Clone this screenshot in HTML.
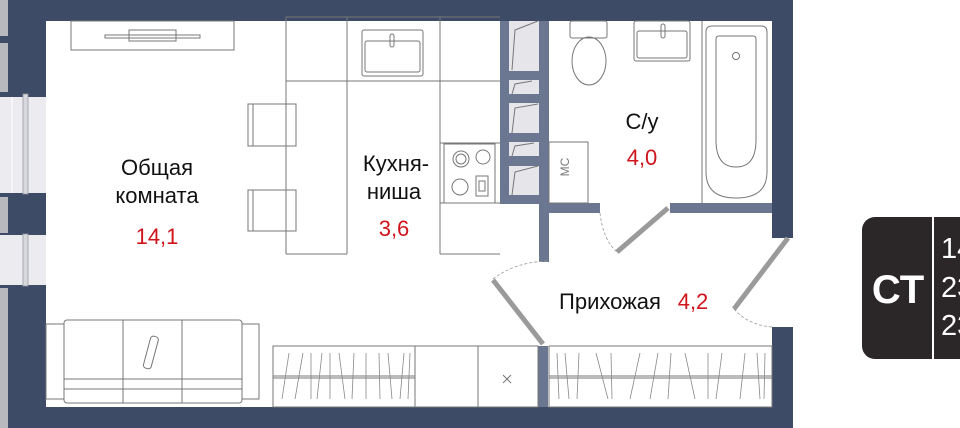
<!DOCTYPE html>
<html><head><meta charset="utf-8"><style>
html,body{margin:0;padding:0;background:#fff;width:960px;height:428px;overflow:hidden}
svg{display:block}
text{font-family:"Liberation Sans","DejaVu Sans",sans-serif}
</style></head><body>
<svg width="960" height="428" viewBox="0 0 960 428" xmlns="http://www.w3.org/2000/svg">
<!-- outer walls -->
<rect x="8" y="0" width="785" height="428" fill="#3d4b66"/>
<rect x="46" y="21" width="726" height="386" fill="#fff"/>
<!-- left edge strips -->
<rect x="0" y="0" width="8" height="428" fill="#3d4b66"/>
<rect x="0" y="0" width="8" height="36" fill="#b8b9be"/>
<rect x="0" y="43" width="8" height="49" fill="#b8b9be"/>
<rect x="0" y="197" width="8" height="36" fill="#b8b9be"/>
<rect x="0" y="288" width="8" height="140" fill="#b8b9be"/>
<!-- windows -->
<rect x="0" y="97" width="46" height="96" fill="#ececf0"/>
<line x1="12" y1="97" x2="12" y2="193" stroke="#fff" stroke-width="1"/>
<rect x="23" y="94" width="5" height="100" fill="#d6d8dd" stroke="#9a9ca3" stroke-width="0.8"/>
<rect x="0" y="235" width="46" height="50" fill="#ececf0"/>
<rect x="23" y="234" width="5" height="52" fill="#d6d8dd" stroke="#9a9ca3" stroke-width="0.8"/>
<!-- right entrance opening -->
<rect x="772" y="238" width="21" height="89" fill="#fff"/>
<!-- interior walls -->
<g fill="#6b7791">
<rect x="500" y="21" width="9" height="182"/>
<rect x="539" y="21" width="10" height="241"/>
<rect x="500" y="195" width="49" height="9"/>
<rect x="549" y="203" width="51" height="10"/>
<rect x="670" y="203" width="102" height="10"/>
<rect x="538" y="346" width="10" height="61"/>
<rect x="509" y="71" width="30" height="9"/>
<rect x="509" y="94" width="30" height="9"/>
<rect x="509" y="133" width="30" height="9"/>
<rect x="509" y="156" width="30" height="10"/>
</g>
<g fill="#e6e6ea">
<rect x="509" y="21" width="30" height="50"/>
<rect x="509" y="80" width="30" height="14"/>
<rect x="509" y="103" width="30" height="30"/>
<rect x="509" y="142" width="30" height="14"/>
<rect x="509" y="166" width="30" height="29"/>
</g>
<g fill="none" stroke="#777" stroke-width="1">
<polyline points="512,70 515,30 538,21"/>
<polyline points="512,94 515,84 532,81"/>
<polyline points="512,133 515,108 538,104"/>
<polyline points="512,156 515,146 534,143"/>
<polyline points="512,195 515,172 538,166"/>
<!-- TV unit -->
<rect x="71" y="21" width="163" height="29"/>
<rect x="105" y="35" width="95" height="3"/>
<rect x="129" y="30" width="47" height="11"/>
<!-- kitchen -->
<line x1="286" y1="17" x2="286" y2="254"/>
<line x1="347" y1="17" x2="347" y2="254"/>
<line x1="440" y1="17" x2="440" y2="254"/>
<line x1="286" y1="17" x2="500" y2="17"/>
<line x1="286" y1="81" x2="500" y2="81"/>
<line x1="286" y1="254" x2="347" y2="254"/>
<line x1="440" y1="254" x2="500" y2="254"/>
<line x1="440" y1="203" x2="500" y2="203"/>
<line x1="440" y1="143" x2="500" y2="143"/>
<rect x="362" y="30" width="61" height="46" rx="2"/>
<rect x="365" y="41" width="55" height="31" rx="2"/>
<rect x="390" y="34" width="4" height="13" rx="2"/>
<rect x="444" y="144" width="51" height="59"/>
<circle cx="461" cy="159" r="8"/><circle cx="461" cy="159" r="5"/>
<circle cx="483" cy="157" r="7"/>
<circle cx="460" cy="187" r="8"/>
<rect x="476" y="176" width="12" height="20"/>
<rect x="479" y="181" width="6" height="10"/>
<!-- chairs -->
<rect x="248" y="104" width="48" height="42"/>
<line x1="253" y1="104" x2="253" y2="146"/>
<rect x="248" y="190" width="48" height="41"/>
<line x1="253" y1="190" x2="253" y2="231"/>
<!-- MC -->
<rect x="549" y="142" width="39" height="61"/>
<!-- toilet -->
<rect x="570" y="21" width="37" height="17" rx="2"/>
<ellipse cx="589" cy="61" rx="17" ry="24"/>
<!-- bath sink -->
<rect x="634" y="21" width="56" height="40" rx="2"/>
<rect x="637" y="31" width="50" height="27" rx="2"/>
<rect x="661" y="24" width="4" height="14" rx="2"/>
<line x1="702" y1="21" x2="702" y2="203"/>
<!-- bath -->
<path d="M712,26 H761 Q767,26 767,32 V172 Q767,198 736,198 Q706,198 706,172 V32 Q706,26 712,26 Z"/>
<path d="M719,36 H753 Q756,36 756,39 V140 Q756,167 736,167 Q716,167 716,140 V39 Q716,36 719,36 Z"/>
<circle cx="736" cy="56" r="3.5"/>
<!-- sofa -->
<rect x="46" y="324" width="18" height="75"/>
<rect x="242" y="324" width="17" height="75"/>
<rect x="64" y="320" width="178" height="83" rx="3"/>
<line x1="123" y1="320" x2="123" y2="403"/>
<line x1="182" y1="320" x2="182" y2="403"/>
<line x1="64" y1="379" x2="242" y2="379"/>
<line x1="64" y1="389" x2="242" y2="389"/>
<rect x="147" y="336" width="8" height="33" rx="3" transform="rotate(15 151 352)"/>
<!-- wardrobes -->
<rect x="273" y="346" width="142" height="61"/>
<line x1="273" y1="376" x2="415" y2="376"/>
<line x1="273" y1="378" x2="415" y2="378"/>
<rect x="415" y="346" width="63" height="61"/>
<rect x="478" y="346" width="60" height="61"/>
<line x1="503" y1="375" x2="511" y2="383"/><line x1="511" y1="375" x2="503" y2="383"/>
<rect x="549" y="346" width="223" height="61"/>
<line x1="549" y1="376" x2="772" y2="376"/>
<line x1="549" y1="378" x2="772" y2="378"/>
</g>
<g stroke="#888" stroke-width="0.8">
<line x1="289" y1="353" x2="282" y2="399"/><line x1="303" y1="353" x2="295" y2="399"/>
<line x1="311" y1="353" x2="311" y2="399"/><line x1="322" y1="353" x2="317" y2="399"/>
<line x1="330" y1="353" x2="330" y2="399"/><line x1="339" y1="353" x2="345" y2="399"/>
<line x1="354" y1="353" x2="352" y2="399"/><line x1="366" y1="353" x2="366" y2="399"/>
<line x1="379" y1="353" x2="380" y2="399"/><line x1="388" y1="353" x2="392" y2="399"/>
<line x1="404" y1="353" x2="400" y2="399"/><line x1="410" y1="353" x2="408" y2="399"/>
<line x1="557" y1="353" x2="559" y2="399"/><line x1="565" y1="353" x2="569" y2="399"/>
<line x1="579" y1="353" x2="577" y2="399"/><line x1="596" y1="353" x2="608" y2="399"/>
<line x1="611" y1="353" x2="612" y2="399"/><line x1="640" y1="353" x2="630" y2="399"/>
<line x1="658" y1="353" x2="650" y2="399"/><line x1="671" y1="353" x2="668" y2="399"/>
<line x1="685" y1="353" x2="695" y2="399"/><line x1="708" y1="353" x2="708" y2="399"/>
<line x1="722" y1="353" x2="716" y2="399"/><line x1="745" y1="353" x2="740" y2="399"/>
<line x1="757" y1="353" x2="760" y2="399"/><line x1="765" y1="353" x2="764" y2="399"/>
</g>
<!-- doors -->
<g stroke="#9a9a9a" stroke-width="5" stroke-linecap="butt">
<line x1="617" y1="252" x2="668" y2="208"/>
<line x1="493" y1="280" x2="543" y2="344"/>
<line x1="734" y1="309" x2="788" y2="238"/>
</g>
<g fill="none" stroke="#999" stroke-width="0.8" stroke-dasharray="3,2">
<path d="M600,213 Q603,240 617,252"/>
<path d="M493,279 Q515,262 548,261"/>
<path d="M734,309 Q748,325 772,327"/>
</g>
<!-- labels -->
<g font-size="22" fill="#111" text-anchor="middle">
<text x="157" y="175">Общая</text>
<text x="157" y="203">комната</text>
<text x="396" y="171">Кухня-</text>
<text x="394" y="199">ниша</text>
<text x="642" y="129">С/у</text>
<text x="610" y="309">Прихожая</text>
</g>
<g font-size="22" fill="#d0141c" text-anchor="middle">
<text x="157" y="244">14,1</text>
<text x="394" y="236">3,6</text>
<text x="642" y="165">4,0</text>
<text x="693" y="309">4,2</text>
</g>
<text x="575" y="173" font-size="12" fill="#777" text-anchor="middle" transform="rotate(-90 569 173)">МС</text>
<!-- badge -->
<rect x="862" y="217" width="120" height="142" rx="13" fill="#2b2628"/>
<rect x="932" y="217" width="2" height="142" fill="#fff"/>
<text x="898" y="303" font-size="40" font-weight="bold" fill="#fff" text-anchor="middle">СТ</text>
<g font-size="29" fill="#fff">
<text x="941" y="258">14</text>
<text x="941" y="297">23</text>
<text x="941" y="335">23</text>
</g>
</svg>
</body></html>
